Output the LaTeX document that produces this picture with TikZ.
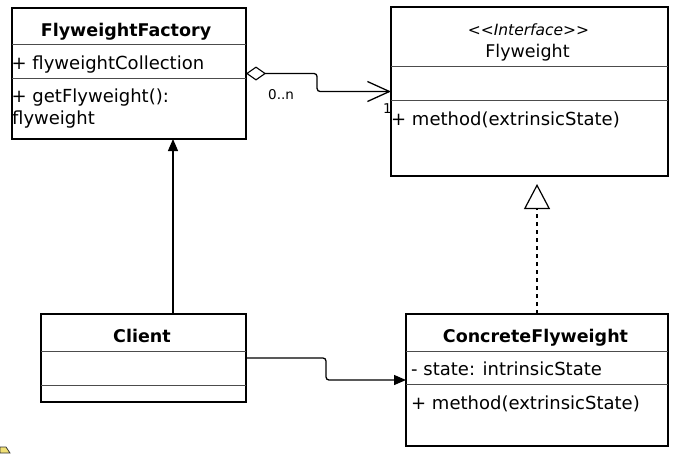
\documentclass[tikz,border=0pt]{standalone}
\usepackage{fontspec}
\setmainfont{DejaVu Sans}
\usetikzlibrary{arrows.meta,calc}
\begin{document}
\begin{tikzpicture}[x=1pt,y=-1pt,
  box/.style={draw, line width=1.3pt, anchor=north west, inner sep=0pt, outer sep=0pt},
  divider/.style={line width=1pt, draw=black!70},
  txt/.style={anchor=base west, inner sep=0pt, font=\fontsize{18}{21}\selectfont},
  ttl/.style={anchor=base, inner sep=0pt, font=\fontsize{17.5}{21}\selectfont\bfseries},
  stereo/.style={anchor=base, inner sep=0pt, font=\fontsize{15.5}{18}\selectfont\itshape},
  mult/.style={anchor=base west, inner sep=0pt, font=\fontsize{13.5}{16}\selectfont},
  conn/.style={line width=1.3pt, rounded corners=3pt},
  filledtip/.style={-{Triangle[length=12pt,width=10pt]}},
]
\fill[white] (0,0) rectangle (680,453);
\useasboundingbox (0,0) rectangle (680,453);

% boxes
\node[box, minimum width=234pt, minimum height=131pt] (ff) at (12,8) {};
\node[box, minimum width=277pt, minimum height=169pt] (fw) at (391,7) {};
\node[box, minimum width=205pt, minimum height=88pt] (cl) at (41,314) {};
\node[box, minimum width=262pt, minimum height=132pt] (cf) at (406,314) {};

% dividers
\draw[divider] (ff.west |- 0,44) -- (ff.east |- 0,44);
\draw[divider] (ff.west |- 0,78) -- (ff.east |- 0,78);
\draw[divider] (fw.west |- 0,66) -- (fw.east |- 0,66);
\draw[divider] (fw.west |- 0,100) -- (fw.east |- 0,100);
\draw[divider] (cl.west |- 0,351) -- (cl.east |- 0,351);
\draw[divider] (cl.west |- 0,385) -- (cl.east |- 0,385);
\draw[divider] (cf.west |- 0,351) -- (cf.east |- 0,351);
\draw[divider] (cf.west |- 0,384) -- (cf.east |- 0,384);

% texts
\node[ttl] (fft) at (126,36) {FlyweightFactory};
\node[txt] (ffa) at (11.5,69) {+ flyweightCollection};
\node[txt] (ffm) at (11.5,102) {+ getFlyweight():};
\node[txt] (ffr) at (12,124) {flyweight};

\node[stereo] (fws) at (528.5,35) {<{}<Interface>{}>};
\node[anchor=base, inner sep=0pt, font=\fontsize{17.5}{21}\selectfont] (fwt) at (527.5,57) {Flyweight};
\node[txt] (fwm) at (391,125) {+ method(extrinsicState)};

\node[ttl] (clt) at (142,342) {Client};

\node[ttl] (cft) at (535.5,342) {ConcreteFlyweight};
\node[txt] (cfa) at (411,375) {- state: intrinsicState};
\node[txt] (cfm) at (411,409) {+ method(extrinsicState)};

% multiplicities
\node[mult] (m0) at (268,99) {0..n};
\node[mult] (m1) at (383,113) {1};

% aggregation Factory -> Flyweight
\coordinate (aggmid) at ($(ff.east)!0.49!(fw.west)$);
\draw[conn, {Diamond[open,length=20pt,width=14pt,line width=1.1pt]}-{Straight Barb[length=22pt,width=20pt,line width=1.3pt]}]
  (ff.east) -| (aggmid) |- (fw.west);

% realization ConcreteFlyweight -> Flyweight
\draw[line width=1.2pt, dash pattern=on 4pt off 4pt, shorten >=8pt,
  -{Triangle[open,length=25pt,width=26pt,line width=1.2pt]}]
  (cf.north) -- (cf.north |- fw.south);

% Client -> Factory
\coordinate (clup) at ($(cl.north west)+(132,0)$);
\draw[line width=1.3pt, filledtip] (clup) -- (clup |- ff.south);

% Client -> ConcreteFlyweight
\coordinate (clmid) at ($(cl.east)!0.5!(cf.west)$);
\draw[conn, filledtip] (cl.east) -| (clmid) |- (cf.west);

% corner icon
\filldraw[fill=brown!40!yellow!60!white, draw=black!80, line width=0.8pt]
  (0,447) -- (6,447) -- (10,453) -- (0,453) -- cycle;
\end{tikzpicture}
\end{document}
